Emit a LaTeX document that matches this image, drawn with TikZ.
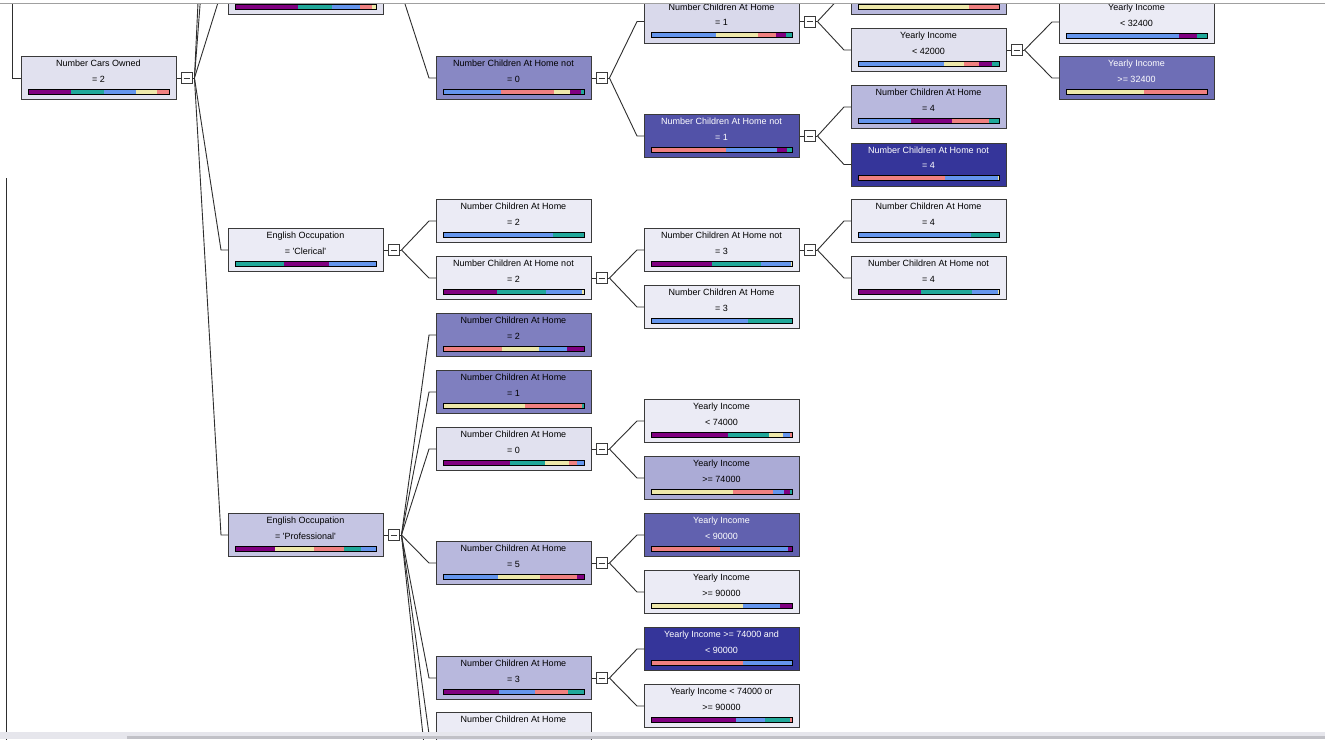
\documentclass[tikz,border=0pt]{standalone}
\usepackage{fontspec}
\newfontfamily\treefont{Liberation Sans}
\usetikzlibrary{calc}

% class distribution colours
\definecolor{bpurple}{HTML}{800080}
\definecolor{bteal}{HTML}{20A89A}
\definecolor{bblue}{HTML}{6495ED}
\definecolor{bsalmon}{HTML}{F08080}
\definecolor{byellow}{HTML}{EEE8AA}
% frame and connector colours
\definecolor{boxedge}{HTML}{3A3A3A}
\definecolor{connc}{HTML}{2E2E2E}
\definecolor{topline}{HTML}{A0A0A0}
\definecolor{scrolltrack}{HTML}{E6E6EC}
\definecolor{scrollthumb}{HTML}{C1C1C7}
% node shading, light to dark
\definecolor{tintA}{HTML}{EBEBF5}
\definecolor{tintB}{HTML}{E1E1EF}
\definecolor{tintC}{HTML}{D9D9EB}
\definecolor{tintD}{HTML}{C5C5E3}
\definecolor{tintE}{HTML}{B8B8DD}
\definecolor{tintF}{HTML}{ABABD6}
\definecolor{tintG}{HTML}{8888C4}
\definecolor{tintH}{HTML}{7F7FBF}
\definecolor{tintI}{HTML}{6E6EB6}
\definecolor{tintM}{HTML}{6161AF}
\definecolor{tintJ}{HTML}{5252A8}
\definecolor{tintK}{HTML}{35359A}

\newcommand\lblfont{\treefont\fontsize{9}{10.8}\selectfont}

\tikzset{
  treebox/.style={draw=boxedge, line width=1pt, minimum width=155pt,
    minimum height=43pt, inner sep=0pt, anchor=north west},
  lbl/.style={anchor=base, font=\lblfont, inner sep=0pt},
  conn/.style={draw=connc, line width=0.9pt},
  toggle/.style={draw=boxedge, fill=white, minimum size=11pt, inner sep=0pt,
    line width=0.9pt,
    path picture={\draw[line width=0.9pt]
      ([xshift=2.5pt]path picture bounding box.west) --
      ([xshift=-2.5pt]path picture bounding box.east);}},
}

% #1 name, #2 left, #3 top, #4 fill, #5 text colour, #6/#7 label lines,
% #8 histogram as colour/cumulative-end pairs
\newcommand\treenode[8]{%
  \node[treebox, fill=#4] (#1) at (#2,#3) {};
  \node[lbl, text=#5] at ($(#1.north west)+(77.5,10.5)$) {#6};
  \node[lbl, text=#5] at ($(#1.north west)+(77.5,26)$) {#7};
  \foreach \c/\e [remember=\e as \s (initially 0)] in {#8} {
    \fill[\c] ($(#1.north west)+(7+141*\s,33)$) rectangle
              ($(#1.north west)+(7+141*\e,38)$);
  }
  \draw[black, line width=0.8pt] ($(#1.north west)+(7,33)$) rectangle
       ($(#1.north west)+(148,38)$);
}

% expand/collapse toggle of a parent and the fan of links to its children
\newcommand\fan[2]{%
  \node[toggle] (#1-t) at ($(#1.east)+(9.5,0)$) {};
  \draw[conn] (#1.east) -- (#1-t.west);
  \coordinate (#1-f) at ($(#1-t.east)+(2,0)$);
  \draw[conn] (#1-t.east) -- (#1-f);
  \foreach \ch in {#2} {
    \draw[conn] (#1-f) -- ($(\ch.west)+(-7,0)$) -- (\ch.west);
  }
}

\begin{document}
\begin{tikzpicture}[x=1pt,y=-1pt]
\useasboundingbox (0,0) rectangle (1325,739);
\fill[white] (0,0) rectangle (1325,739);
\clip (0,0) rectangle (1325,739);

% column 0
\treenode{nA}{21}{56}{tintB}{black}{Number Cars Owned}{= 2}{bpurple/.304,bteal/.54,bblue/.769,byellow/.913,bsalmon/1}

% column 1
\treenode{nB0}{228}{-29}{tintB}{black}{}{}{bpurple/.45,bteal/.69,bblue/.884,bsalmon/.974,byellow/1}
\treenode{nB1}{228}{228}{tintA}{black}{English Occupation}{= 'Clerical'}{bteal/.35,bpurple/.67,bblue/1}
\treenode{nB2}{228}{513}{tintD}{black}{English Occupation}{= 'Professional'}{bpurple/.287,byellow/.56,bsalmon/.77,bteal/.893,bblue/1}

% column 2
\treenode{nC0}{436}{56}{tintG}{black}{Number Children At Home not}{= 0}{bblue/.41,bsalmon/.785,byellow/.903,bpurple/.976,bteal/1}
\treenode{nC1}{436}{199}{tintA}{black}{Number Children At Home}{= 2}{bblue/.78,bteal/1}
\treenode{nC2}{436}{256}{tintA}{black}{Number Children At Home not}{= 2}{bpurple/.38,bteal/.728,bblue/.988,byellow/1}
\treenode{nC3}{436}{313}{tintH}{black}{Number Children At Home}{= 2}{bsalmon/.42,byellow/.68,bblue/.88,bpurple/1}
\treenode{nC4}{436}{370}{tintH}{black}{Number Children At Home}{= 1}{byellow/.58,bsalmon/.983,bteal/1}
\treenode{nC5}{436}{427}{tintB}{black}{Number Children At Home}{= 0}{bpurple/.473,bteal/.72,byellow/.894,bsalmon/.948,bblue/1}
\treenode{nC6}{436}{541}{tintE}{black}{Number Children At Home}{= 5}{bblue/.388,byellow/.688,bsalmon/.948,bpurple/1}
\treenode{nC7}{436}{656}{tintE}{black}{Number Children At Home}{= 3}{bpurple/.397,bblue/.652,bsalmon/.884,bteal/1}
\treenode{nC8}{436}{712}{tintA}{black}{Number Children At Home}{}{bblue/1}

% column 3
\treenode{nD0}{644}{-0.5}{tintC}{black}{Number Children At Home}{= 1}{bblue/.46,byellow/.758,bsalmon/.885,bpurple/.96,bteal/1}
\treenode{nD1}{644}{114}{tintJ}{white}{Number Children At Home not}{= 1}{bsalmon/.53,bblue/.894,bpurple/.967,bteal/1}
\treenode{nD2}{644}{228}{tintA}{black}{Number Children At Home not}{= 3}{bpurple/.43,bteal/.78,bblue/.99,byellow/1}
\treenode{nD3}{644}{285}{tintA}{black}{Number Children At Home}{= 3}{bblue/.686,bteal/1}
\treenode{nD4}{644}{399}{tintA}{black}{Yearly Income}{< 74000}{bpurple/.544,bteal/.838,byellow/.934,bblue/.984,bsalmon/1}
\treenode{nD5}{644}{456}{tintF}{black}{Yearly Income}{>= 74000}{byellow/.58,bsalmon/.868,bblue/.94,bpurple/.984,bteal/1}
\treenode{nD6}{644}{513}{tintM}{white}{Yearly Income}{< 90000}{bsalmon/.49,bblue/.974,bpurple/1}
\treenode{nD7}{644}{570}{tintA}{black}{Yearly Income}{>= 90000}{byellow/.654,bblue/.913,bpurple/1}
\treenode{nD8}{644}{627}{tintK}{white}{Yearly Income >= 74000 and}{< 90000}{bsalmon/.654,bblue/1}
\treenode{nD9}{644}{684}{tintA}{black}{Yearly Income < 74000 or}{>= 90000}{bpurple/.6,bblue/.805,bteal/.984,bsalmon/1}

% column 4
\treenode{nE0}{851}{-29}{tintE}{black}{}{}{byellow/.79,bsalmon/1}
\treenode{nE1}{851}{28}{tintB}{black}{Yearly Income}{< 42000}{bblue/.607,byellow/.749,bsalmon/.855,bpurple/.953,bteal/1}
\treenode{nE2}{851}{85}{tintE}{black}{Number Children At Home}{= 4}{bblue/.377,bpurple/.664,bsalmon/.927,bteal/1}
\treenode{nE3}{851}{142.5}{tintK}{white}{Number Children At Home not}{= 4}{bsalmon/.62,bblue/.99,byellow/1}
\treenode{nE4}{851}{199}{tintA}{black}{Number Children At Home}{= 4}{bblue/.803,bteal/1}
\treenode{nE5}{851}{256}{tintA}{black}{Number Children At Home not}{= 4}{bpurple/.45,bteal/.808,bblue/.993,byellow/1}

% column 5
\treenode{nF0}{1059}{0}{tintA}{black}{Yearly Income}{< 32400}{bblue/.8,bpurple/.927,bteal/1}
\treenode{nF1}{1059}{56}{tintI}{white}{Yearly Income}{>= 32400}{byellow/.552,bsalmon/1}

% links
\fan{nA}{nB0,nB1,nB2}
\fan{nB0}{nC0}
\fan{nB1}{nC1,nC2}
\fan{nB2}{nC3,nC4,nC5,nC6,nC7,nC8}
\fan{nC0}{nD0,nD1}
\fan{nC2}{nD2,nD3}
\fan{nC5}{nD4,nD5}
\fan{nC6}{nD6,nD7}
\fan{nC7}{nD8,nD9}
\fan{nD0}{nE0,nE1}
\fan{nD1}{nE2,nE3}
\fan{nD2}{nE4,nE5}
\fan{nE1}{nF0,nF1}

% links leaving the visible area
\coordinate (farA1) at (222,-282);
\coordinate (farA2) at (222,-506);
\draw[conn] (nA-f) -- (farA1);
\draw[conn] (nA-f) -- (farA2);
\coordinate (farB2) at (429,791);
\draw[conn] (nB2-f) -- (farB2);
\coordinate (rootIn) at (12,-10);
\draw[conn] (rootIn) |- (nA.west);
\coordinate (leftTop) at (6,178);
\coordinate (leftBot) at (6,760);
\draw[conn] (leftTop) -- (leftBot);

% window frame: top rule and horizontal scroll bar
\fill[white] (0,0) rectangle (1325,3);
\draw[topline, line width=1.3pt] (0,3.5) -- (1325,3.5);
\fill[scrolltrack] (0,731.7) rectangle (1325,739);
\fill[scrollthumb] (127,735.7) rectangle (1325,739);
\end{tikzpicture}
\end{document}
